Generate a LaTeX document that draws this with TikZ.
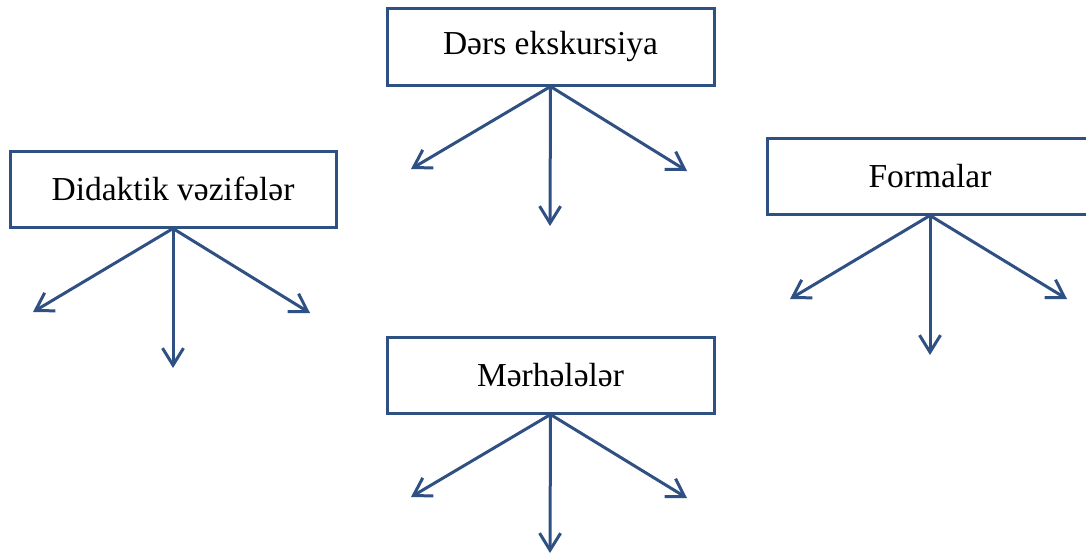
\documentclass[tikz,border=0pt]{standalone}
\usepackage{fontspec}
\setmainfont{Liberation Serif}
\usetikzlibrary{arrows.meta}
\definecolor{boxblue}{RGB}{47,80,130}
\tikzset{
  topic/.style={draw=boxblue, line width=3pt, rectangle, inner sep=0pt, font=\fontsize{33.5}{38}\selectfont, text=black},
  branch/.style={draw=boxblue, line width=3pt, -{Straight Barb[length=17pt,width=21pt,line width=3pt]}}
}
\begin{document}
\begin{tikzpicture}[x=1pt,y=-1pt]
\useasboundingbox (0,0) rectangle (1086,554);
% boxes
\node[topic, minimum width=327pt, minimum height=77pt] (ders) at (550.5,46.5) {Dərs ekskursiya};
\node[topic, minimum width=326pt, minimum height=76pt] (did) at (173,189) {Didaktik vəzifələr};
\node[topic, minimum width=326pt, minimum height=76pt] (form) at (930,176) {};
\node[font=\fontsize{33.5}{38}\selectfont] (formtxt) at (930,176) {Formalar};
\node[topic, minimum width=327pt, minimum height=76pt] (merh) at (550.5,375) {Mərhələlər};
% arrow targets
\coordinate (d1) at (411,169); \coordinate (d2) at (550,226); \coordinate (d3) at (687,171);
\coordinate (v1) at (33,312); \coordinate (v2) at (173,368); \coordinate (v3) at (310,313);
\coordinate (f1) at (790,299); \coordinate (f2) at (930,355); \coordinate (f3) at (1067,299);
\coordinate (m1) at (411,497); \coordinate (m2) at (550,553); \coordinate (m3) at (687,498);
% connectors
\foreach \i in {1,2,3} {
  \draw[branch] (ders.south) -- (d\i);
  \draw[branch] (did.south) -- (v\i);
  \draw[branch] (form.south) -- (f\i);
  \draw[branch] (merh.south) -- (m\i);
}
\end{tikzpicture}
\end{document}
